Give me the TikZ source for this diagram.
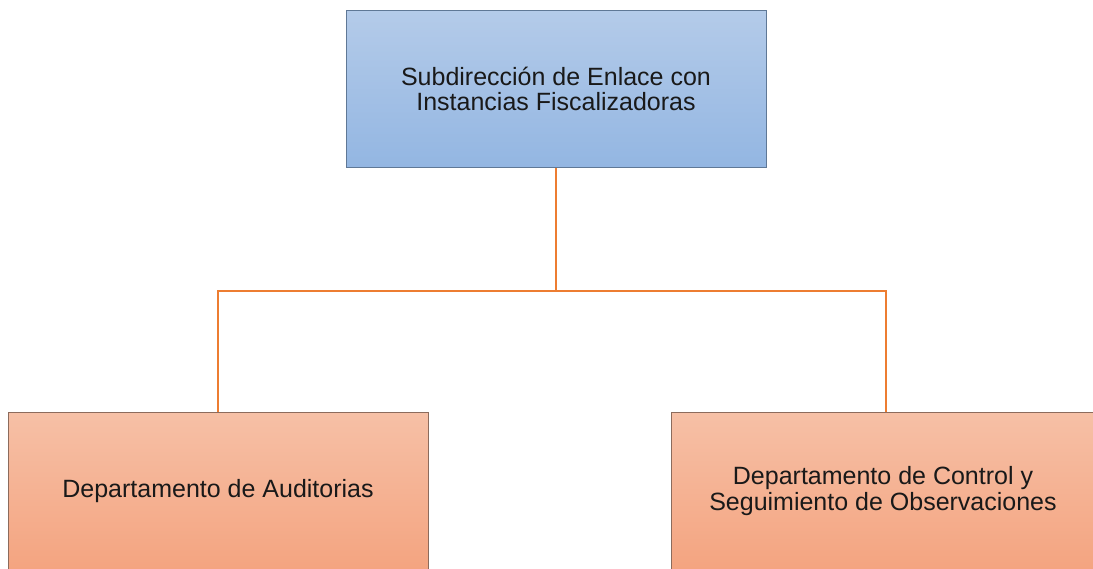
\documentclass[tikz,border=0pt]{standalone}
\usepackage{fontspec}
\setmainfont{Liberation Sans}
\definecolor{bluetop}{HTML}{B4CBE9}
\definecolor{bluebot}{HTML}{93B6E2}
\definecolor{bluebord}{HTML}{5F7896}
\definecolor{ortop}{HTML}{F6C0A6}
\definecolor{orbot}{HTML}{F4A480}
\definecolor{orbord}{HTML}{8C6B5C}
\definecolor{conn}{HTML}{ED7D31}
\begin{document}
\begin{tikzpicture}[x=1pt,y=-1pt,
  box/.style={draw, line width=0.9pt, minimum width=420pt, minimum height=157pt,
    inner sep=0pt, align=center, font=\fontsize{25}{25.5}\selectfont, text=black!90},
  bluebox/.style={box, draw=bluebord, top color=bluetop, bottom color=bluebot},
  orbox/.style={box, draw=orbord, top color=ortop, bottom color=orbot},
  link/.style={draw=conn, line width=2pt}]
\useasboundingbox (0,0) rectangle (1093,569);
\clip (0,0) rectangle (1093,569);
\node[bluebox] (top) at (556,89) {Subdirección de Enlace con\\Instancias Fiscalizadoras};
\node[orbox] (left) at (218,491) {Departamento de Auditorias};
\node[orbox, minimum width=424pt] (right) at (883,491) {Departamento de Control y\\Seguimiento de Observaciones};
\coordinate (j) at (556,291);
\path[link] (top.south) -- (j);
\path[link] (j) -| (left.north);
\path[link] (j) -| ([xshift=3pt]right.north);
\end{tikzpicture}
\end{document}
